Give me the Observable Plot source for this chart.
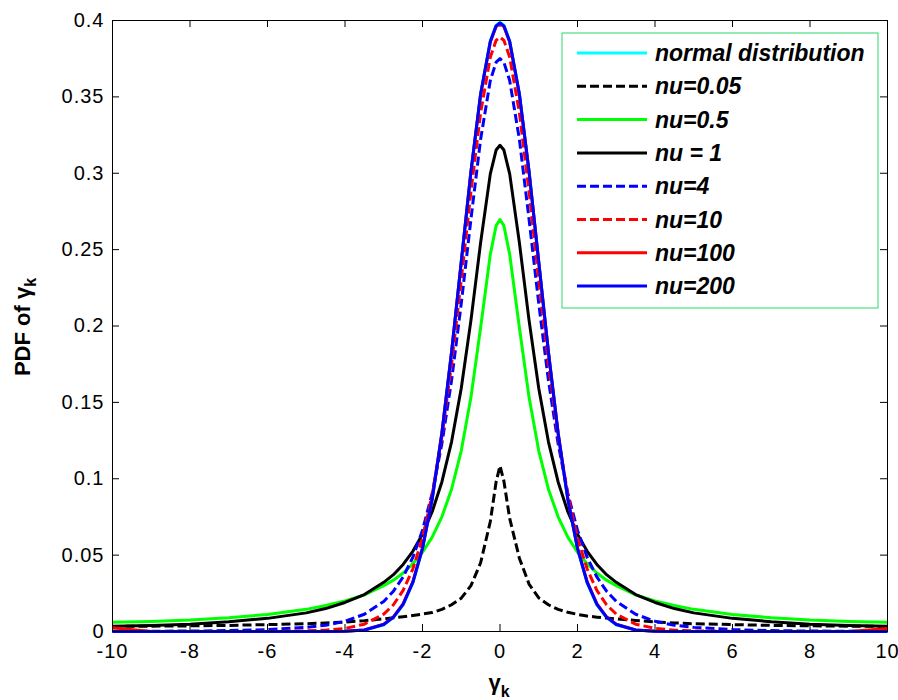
<!DOCTYPE html>
<html><head><meta charset="utf-8">
<script src="https://cdn.jsdelivr.net/npm/d3@7"></script>
<script src="https://cdn.jsdelivr.net/npm/@observablehq/plot@0.6"></script>
<style>
body{margin:0;background:#fff;}
#chart{position:relative;width:898px;height:700px;}
#chart svg [aria-label="x-axis tick label"] text,
#chart svg [aria-label="y-axis tick label"] text{letter-spacing:1px;}
</style></head><body><div id="chart"></div>
<script>
const xValues = [-10,-9,-8,-7,-6,-5,-4.5,-4,-3.5,-3,-2.75,-2.5,-2.25,-2,-1.75,-1.5,-1.25,-1,-0.75,-0.5,-0.25,-0.1,0,0.1,0.25,0.5,0.75,1,1.25,1.5,1.75,2,2.25,2.5,2.75,3,3.5,4,4.5,5,6,7,8,9,10];
const normalPdf = [0,0,0,0,0,0,0,0.0001,0.0009,0.0044,0.0091,0.0175,0.0317,0.0540,0.0863,0.1295,0.1826,0.2420,0.3011,0.3521,0.3867,0.3970,0.3989,0.3970,0.3867,0.3521,0.3011,0.2420,0.1826,0.1295,0.0863,0.0540,0.0317,0.0175,0.0091,0.0044,0.0009,0.0001,0,0,0,0,0,0,0];
const nu005 = [0.0033,0.0035,0.0037,0.0040,0.0045,0.0051,0.0056,0.0062,0.0071,0.0083,0.0090,0.0097,0.0105,0.0114,0.0124,0.0145,0.0175,0.0218,0.0300,0.0450,0.0720,0.0980,0.1085,0.0985,0.0740,0.0480,0.0310,0.0220,0.0175,0.0145,0.0126,0.0112,0.0101,0.0094,0.0088,0.0083,0.0072,0.0063,0.0056,0.0051,0.0045,0.0040,0.0037,0.0035,0.0033];
const nu05 = [0.0060,0.0066,0.0075,0.0090,0.0112,0.0145,0.0170,0.0200,0.0240,0.0300,0.0336,0.0383,0.0443,0.0519,0.0618,0.0751,0.0932,0.1183,0.1533,0.1990,0.2469,0.2657,0.2697,0.2657,0.2469,0.1990,0.1533,0.1183,0.0932,0.0751,0.0618,0.0519,0.0443,0.0383,0.0336,0.0300,0.0240,0.0200,0.0170,0.0145,0.0112,0.0090,0.0075,0.0066,0.0060];
const nu1 = [0.0034,0.0040,0.0048,0.0064,0.0086,0.0122,0.0150,0.0190,0.0242,0.0322,0.0372,0.0439,0.0525,0.0637,0.0784,0.0979,0.1242,0.1592,0.2037,0.2546,0.2996,0.3152,0.3183,0.3152,0.2996,0.2546,0.2037,0.1592,0.1242,0.0979,0.0784,0.0637,0.0525,0.0439,0.0372,0.0322,0.0242,0.0190,0.0150,0.0122,0.0086,0.0064,0.0048,0.0040,0.0034];
const nu4 = [0.0001,0.0002,0.0003,0.0006,0.0012,0.0027,0.0041,0.0067,0.0113,0.0197,0.0264,0.0357,0.0485,0.0663,0.0905,0.1229,0.1644,0.2147,0.2699,0.3223,0.3607,0.3727,0.3750,0.3727,0.3607,0.3223,0.2699,0.2147,0.1644,0.1229,0.0905,0.0663,0.0485,0.0357,0.0264,0.0197,0.0113,0.0067,0.0041,0.0027,0.0012,0.0006,0.0003,0.0002,0.0001];
const nu10 = [0,0,0,0,0.0001,0.0004,0.0009,0.0020,0.0048,0.0114,0.0175,0.0269,0.0409,0.0611,0.0895,0.1275,0.1751,0.2304,0.2880,0.3397,0.3760,0.3870,0.3891,0.3870,0.3760,0.3397,0.2880,0.2304,0.1751,0.1275,0.0895,0.0611,0.0409,0.0269,0.0175,0.0114,0.0048,0.0020,0.0009,0.0004,0.0001,0,0,0,0];
const nu100 = [0.0025,0,0,0,0,0,0,0.0002,0.0010,0.0048,0.0096,0.0182,0.0325,0.0548,0.0870,0.1301,0.1830,0.2419,0.3011,0.3516,0.3859,0.3960,0.3979,0.3960,0.3859,0.3516,0.3011,0.2419,0.1830,0.1301,0.0870,0.0548,0.0325,0.0182,0.0096,0.0048,0.0010,0.0002,0,0,0,0,0,0,0.0020];
const nu200 = [0,0,0,0,0,0,0,0.0001,0.0010,0.0046,0.0094,0.0178,0.0321,0.0544,0.0866,0.1298,0.1828,0.2420,0.3011,0.3519,0.3863,0.3965,0.3984,0.3965,0.3863,0.3519,0.3011,0.2420,0.1828,0.1298,0.0866,0.0544,0.0321,0.0178,0.0094,0.0046,0.0010,0.0001,0,0,0,0,0,0,0];

const seriesNames = ["normal distribution","nu=0.05","nu=0.5","nu = 1","nu=4","nu=10","nu=100","nu=200"];
const seriesValues = [normalPdf, nu005, nu05, nu1, nu4, nu10, nu100, nu200];
const seriesColors = ["#00ffff","#000000","#00ff00","#000000","#0000ff","#ff0000","#ff0000","#0000ff"];
const seriesDashed = [false,true,false,false,true,true,false,false];

const xTicks = [-10,-8,-6,-4,-2,0,2,4,6,8,10];
const xTickLabels = ["-10","-8","-6","-4","-2","0","2","4","6","8","10"];
const yTicks = [0,0.05,0.1,0.15,0.2,0.25,0.3,0.35,0.4];
const yTickLabels = ["0","0.05","0.1","0.15","0.2","0.25","0.3","0.35","0.4"];

const W = 898, H = 700, mL = 112, mR = 11, mT = 20, mB = 69;
const plotW = W - mL - mR, plotH = H - mT - mB, tickLen = 7;
const FONT = "'Liberation Sans', Arial, Helvetica, sans-serif";

const rows = [];
seriesNames.forEach((name, s) => {
  seriesValues[s].forEach((v, i) => rows.push({series: name, x: xValues[i], y: v}));
});

const lineMarks = seriesNames.map((name, s) =>
  Plot.line(rows.filter(d => d.series === name), {
    x: "x", y: "y", stroke: seriesColors[s], strokeWidth: 3,
    strokeDasharray: seriesDashed[s] ? "9,4" : null,
    strokeLinejoin: "round", strokeLinecap: "butt"
  })
);

const chart = Plot.plot({
  width: W, height: H,
  marginLeft: mL, marginRight: mR, marginTop: mT, marginBottom: mB,
  style: {fontFamily: FONT, fontSize: "20px", color: "#000", background: "#fff", overflow: "visible"},
  x: {domain: [-10, 10]},
  y: {domain: [0, 0.4]},
  marks: [
    Plot.ruleX(xTicks, {x: d => d, insetTop: plotH - tickLen, stroke: "#000"}),
    Plot.ruleX(xTicks, {x: d => d, insetBottom: plotH - tickLen, stroke: "#000"}),
    Plot.ruleY(yTicks, {y: d => d, insetRight: plotW - tickLen, stroke: "#000"}),
    Plot.ruleY(yTicks, {y: d => d, insetLeft: plotW - tickLen, stroke: "#000"}),
    Plot.axisX({ticks: xTicks, tickSize: 0, tickPadding: 12, fontSize: 20,
      tickFormat: d => xTickLabels[xTicks.indexOf(d)], label: null}),
    Plot.axisY({ticks: yTicks, tickSize: 0, tickPadding: 8, fontSize: 20,
      tickFormat: d => yTickLabels[yTicks.indexOf(d)], label: null}),
    ...lineMarks,
    Plot.frame({stroke: "#000", strokeWidth: 1})
  ]
});
document.getElementById("chart").appendChild(chart);

const svg = d3.select(chart);
// legend
const lg = svg.append("g").attr("font-family", FONT).attr("text-anchor", "start");
lg.append("rect").attr("x", 562).attr("y", 33).attr("width", 316).attr("height", 275)
  .attr("fill", "#fff").attr("stroke", "#2bd96b").attr("stroke-width", 1);
seriesNames.forEach((name, i) => {
  const by = 61 + i * 33.3;
  lg.append("line").attr("x1", 577).attr("x2", 647).attr("y1", by - 8).attr("y2", by - 8)
    .attr("stroke", seriesColors[i]).attr("stroke-width", 3)
    .attr("stroke-dasharray", seriesDashed[i] ? "9,4" : null);
  lg.append("text").attr("x", 655).attr("y", by).attr("font-size", 23)
    .attr("text-anchor", "start")
    .attr("font-weight", "bold").attr("font-style", "italic").attr("fill", "#000").text(name);
});
// y label
const yl = svg.append("text").attr("transform", "translate(30,327) rotate(-90)")
  .attr("text-anchor", "middle").attr("font-family", FONT).attr("font-weight", "bold")
  .attr("font-size", 22).attr("fill", "#000");
yl.append("tspan").text("PDF of γ");
yl.append("tspan").attr("font-size", 16).attr("dy", 6).text("k");
// x label
const xl = svg.append("text").attr("x", 499).attr("y", 690)
  .attr("text-anchor", "middle").attr("font-family", FONT).attr("font-weight", "bold")
  .attr("font-size", 22).attr("fill", "#000");
xl.append("tspan").text("γ");
xl.append("tspan").attr("font-size", 16).attr("dy", 7).text("k");
</script>
</body></html>
